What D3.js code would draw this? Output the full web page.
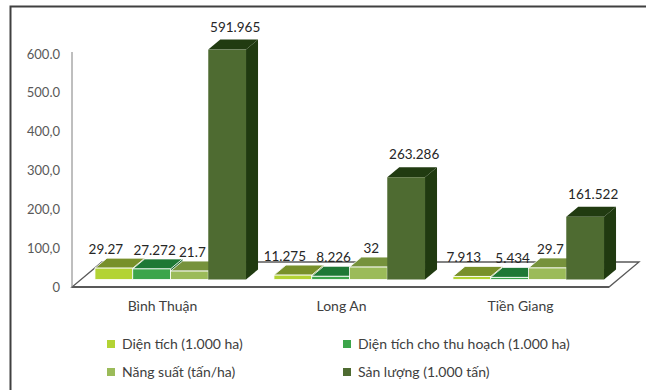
<!DOCTYPE html>
<html>
<head>
<meta charset="utf-8">
<script src="https://cdn.jsdelivr.net/npm/d3@7"></script>
<style>
  html, body { margin: 0; padding: 0; background: #fff; }
  svg { display: block; }
  text { font-family: Lato, "Noto Sans", sans-serif; }
</style>
</head>
<body>
<svg id="chart" width="646" height="390"></svg>
<script>
// Provinces and the four measures shown per province
const categories = ["Bình Thuận", "Long An", "Tiền Giang"];
const seriesNames = [
  "Diện tích (1.000 ha)",
  "Diện tích cho thu hoạch (1.000 ha)",
  "Năng suất (tấn/ha)",
  "Sản lượng (1.000 tấn)"
];
const dienTich = [29.27, 11.275, 7.913];
const dienTichThuHoach = [27.272, 8.226, 5.434];
const nangSuat = [21.7, 32, 29.7];
const sanLuong = [591.965, 263.286, 161.522];
const yTicks = [0, 100, 200, 300, 400, 500, 600];
const yTickLabels = ["0", "100,0", "200,0", "300,0", "400,0", "500.0", "600.0"];

const seriesValues = [dienTich, dienTichThuHoach, nangSuat, sanLuong];

// Face colours per series: front, top, side
const palette = [
  { front: "#b3d334", top: "#78902a", side: "#6f8a22" },
  { front: "#3ca54a", top: "#1e7835", side: "#1b6a2e" },
  { front: "#9bbb59", top: "#76923c", side: "#6a8534" },
  { front: "#4e6b31", top: "#213b11", side: "#203a10" }
];
// horizontal nudge of each series' value label, keeps neighbours apart
const labelNudge = [-8, 3, 3, 8];

const svg = d3.select("#chart");

// Outer frame (top and left edges)
svg.append("path")
  .attr("d", "M10.5,390 V6.5 H646")
  .attr("fill", "none")
  .attr("stroke", "#404040")
  .attr("stroke-width", 2);

// Oblique 3D projection parameters
const floorY = 287;
const left = 72, right = 609;
const depth = { x: 30, y: -25 };          // floor depth vector
const barDepth = { x: 12, y: -10 };       // depth of each column
const barShift = { x: depth.x * 0.3, y: depth.y * 0.3 }; // columns sit mid-floor

const x = d3.scaleBand().domain(categories).range([left, right]);
const xs = d3.scaleBand().domain(seriesNames).range([0, x.bandwidth()])
  .paddingInner(0).paddingOuter(0.37);
const h = d3.scaleLinear().domain([0, 600]).range([0, 233]);

// Floor
svg.append("polygon")
  .attr("points", [
    [left, floorY], [right, floorY],
    [right + depth.x, floorY + depth.y], [left + depth.x, floorY + depth.y]
  ].map(p => p.join(",")).join(" "))
  .attr("fill", "#fff")
  .attr("stroke", "#595959")
  .attr("stroke-width", 1.3);
svg.append("line")
  .attr("x1", left).attr("x2", right)
  .attr("y1", floorY).attr("y2", floorY)
  .attr("stroke", "#595959").attr("stroke-width", 2);

// Value axis
svg.append("line")
  .attr("x1", left).attr("x2", left)
  .attr("y1", floorY).attr("y2", floorY - h(600) - 2)
  .attr("stroke", "#7f7f7f").attr("stroke-width", 1);

svg.append("g").selectAll("text")
  .data(yTicks)
  .join("text")
  .attr("x", 60)
  .attr("y", d => floorY - h(d))
  .attr("dy", "0.35em")
  .attr("text-anchor", "end")
  .attr("font-size", 13)
  .attr("fill", "#595959")
  .text((d, i) => yTickLabels[i]);

// Columns
const bars = [];
categories.forEach((c, ci) => {
  seriesNames.forEach((s, si) => {
    bars.push({ c, s, si, v: seriesValues[si][ci] });
  });
});

const gBars = svg.append("g");
bars.forEach(b => {
  const x0 = x(b.c) + xs(b.s) + barShift.x;
  const w = xs.bandwidth();
  const yb = floorY + barShift.y;
  const yt = yb - h(b.v);
  const col = palette[b.si];
  const edge = b.si < 3 ? "#ffffff" : "none";
  const g = gBars.append("g");
  // side face
  g.append("polygon")
    .attr("points", [[x0 + w, yb], [x0 + w + barDepth.x, yb + barDepth.y],
      [x0 + w + barDepth.x, yt + barDepth.y], [x0 + w, yt]].map(p => p.join(",")).join(" "))
    .attr("fill", col.side);
  // top face
  g.append("polygon")
    .attr("points", [[x0, yt], [x0 + w, yt], [x0 + w + barDepth.x, yt + barDepth.y],
      [x0 + barDepth.x, yt + barDepth.y]].map(p => p.join(",")).join(" "))
    .attr("fill", col.top)
    .attr("stroke", edge).attr("stroke-width", 0.8);
  // front face
  g.append("rect")
    .attr("x", x0).attr("y", yt)
    .attr("width", w).attr("height", yb - yt)
    .attr("fill", col.front)
    .attr("stroke", edge).attr("stroke-width", 0.8);
  b.labelX = x0 + w / 2 + labelNudge[b.si];
  b.labelY = yt + barDepth.y - (b.v > 100 ? 12.5 : 9);
});

// Value labels
svg.append("g").selectAll("text")
  .data(bars)
  .join("text")
  .attr("x", d => d.labelX)
  .attr("y", d => d.labelY)
  .attr("dy", "0.35em")
  .attr("text-anchor", "middle")
  .attr("font-size", 13.5)
  .attr("fill", "#262626")
  .text(d => String(d.v));

// Category labels
svg.append("g").selectAll("text")
  .data(categories)
  .join("text")
  .attr("x", d => x(d) + x.bandwidth() / 2 + 1)
  .attr("y", 306)
  .attr("dy", "0.35em")
  .attr("text-anchor", "middle")
  .attr("font-size", 14)
  .attr("fill", "#404040")
  .text(d => d);

// Legend
const legendPos = [
  { x: 107, y: 344 }, { x: 343, y: 344 },
  { x: 107, y: 372 }, { x: 343, y: 372 }
];
const legend = svg.append("g").selectAll("g")
  .data(seriesNames)
  .join("g")
  .attr("transform", (d, i) => `translate(${legendPos[i].x},${legendPos[i].y})`);
legend.append("rect")
  .attr("x", 0).attr("y", -4)
  .attr("width", 8).attr("height", 8)
  .attr("fill", (d, i) => palette[i].front);
legend.append("text")
  .attr("x", 15)
  .attr("dy", "0.35em")
  .attr("font-size", 14)
  .attr("fill", "#404040")
  .text(d => d);
</script>
</body>
</html>
